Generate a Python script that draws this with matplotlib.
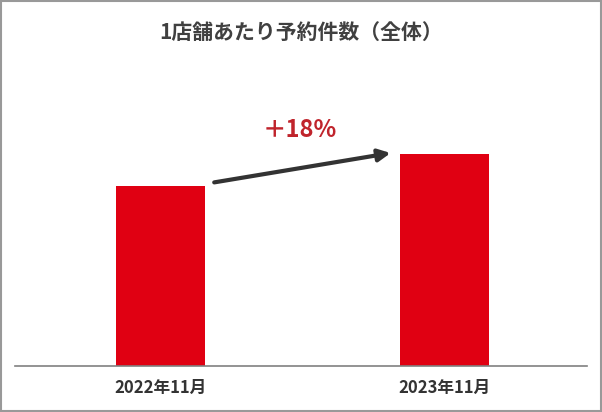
import matplotlib.pyplot as plt
from matplotlib.patches import Rectangle

plt.rcParams['font.family'] = ['Noto Sans CJK JP', 'DejaVu Sans']

# データ
categories = ['2022年11月', '2023年11月']
values = [100, 118]
growth_label = '＋18%'
title = '1店舗あたり予約件数（全体）'

fig = plt.figure(figsize=(6.02, 4.12), dpi=100)
ax = fig.add_axes([0.025, 0.1117, 0.95, 0.699])

x = list(range(len(categories)))
ax.bar(x, values, width=0.313, color='#e00012', zorder=2)

ax.set_xlim(-0.51, 1.50)
ax.set_ylim(0, 160)

# 軸の見た目
for side in ['top', 'right', 'left']:
    ax.spines[side].set_visible(False)
ax.spines['bottom'].set_color('#808080')
ax.spines['bottom'].set_linewidth(1.2)
ax.set_yticks([])
ax.set_xticks(x)
ax.set_xticklabels(categories, fontsize=12, color='#333333', fontweight='bold')
ax.tick_params(axis='x', length=0, pad=9)

# 矢印と伸び率
ax.annotate('', xy=(0.81, values[1] + 0.3), xytext=(0.19, values[0] + 2),
            arrowprops=dict(arrowstyle='-|>', color='#333333', lw=3,
                            mutation_scale=18, shrinkA=0, shrinkB=0))
ax.text(0.49, 131, growth_label, ha='center', va='center', fontsize=17,
        color='#c0242c', fontweight='bold')

fig.text(0.5, 0.922, title, ha='center', va='center', fontsize=15,
         color='#404040', fontweight='bold')

# 外枠
fig.patches.append(Rectangle((0.002, 0.003), 0.996, 0.994, transform=fig.transFigure,
                             fill=False, edgecolor='#999999', linewidth=1.5))

fig.savefig('out.png', dpi=100)
